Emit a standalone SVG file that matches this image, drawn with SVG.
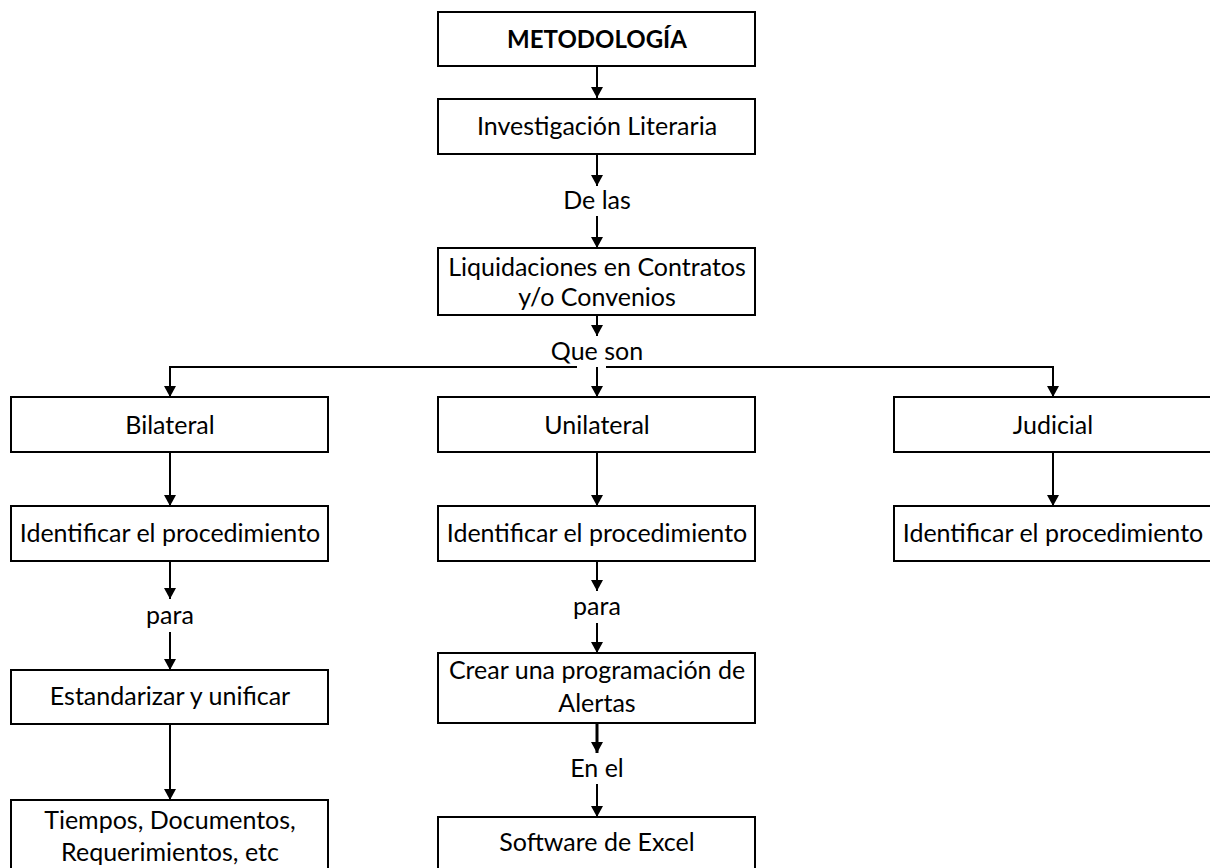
<svg xmlns="http://www.w3.org/2000/svg" width="1210" height="868" viewBox="0 0 1210 868">
<defs>
<marker id="ah" markerUnits="userSpaceOnUse" markerWidth="12" markerHeight="12" refX="11" refY="6" orient="auto">
<path d="M0,0 L11,6 L0,12 Z" fill="#000"/>
</marker>
<style>
.box{fill:#fff;stroke:#000;stroke-width:2}
.t{font-family:Lato,"Open Sans",sans-serif;font-size:25px;fill:#000;text-anchor:middle}
.b{font-weight:bold;font-size:24px}
.c{stroke:#000;stroke-width:2;fill:none}
.a{marker-end:url(#ah)}
</style>
</defs>
<rect width="1210" height="868" fill="#fff"/>
<g id="connectors">
<line class="c a" x1="597" y1="66" x2="597" y2="98"/>
<line class="c a" x1="597" y1="154" x2="597" y2="186"/>
<line class="c a" x1="597" y1="216" x2="597" y2="248"/>
<line class="c a" x1="597" y1="315" x2="597" y2="336"/>
<polyline class="c a" points="577,367 170,367 170,397"/>
<polyline class="c a" points="606,367 1053,367 1053,397"/>
<line class="c a" x1="597" y1="367" x2="597" y2="397"/>
<line class="c a" x1="170" y1="452" x2="170" y2="506"/>
<line class="c a" x1="597" y1="452" x2="597" y2="506"/>
<line class="c a" x1="1053" y1="452" x2="1053" y2="506"/>
<line class="c a" x1="170" y1="561" x2="170" y2="599"/>
<line class="c a" x1="170" y1="632" x2="170" y2="670"/>
<line class="c a" x1="170" y1="724" x2="170" y2="800"/>
<line class="c a" x1="597" y1="561" x2="597" y2="591"/>
<line class="c a" x1="597" y1="623" x2="597" y2="653"/>
<line class="c a" x1="597" y1="723" x2="597" y2="753" style="stroke-width:3"/>
<line class="c a" x1="597" y1="784" x2="597" y2="817"/>
</g>
<g id="metodologia"><rect class="box" x="438" y="12" width="317" height="54"/><text class="t b" x="597" y="48">METODOLOGÍA</text></g>
<g id="investigacion"><rect class="box" x="438" y="99" width="317" height="55"/><text class="t" x="597" y="135">Investigación Literaria</text></g>
<g id="delas"><text class="t" x="597" y="209">De las</text></g>
<g id="liquidaciones"><rect class="box" x="438" y="248" width="317" height="67"/><text class="t" x="597" y="276">Liquidaciones en Contratos</text><text class="t" x="597" y="306">y/o Convenios</text></g>
<g id="queson"><text class="t" x="597" y="360">Que son</text></g>
<g id="bilateral"><rect class="box" x="11" y="397" width="317" height="55"/><text class="t" x="170" y="434">Bilateral</text></g>
<g id="unilateral"><rect class="box" x="438" y="397" width="317" height="55"/><text class="t" x="597" y="434">Unilateral</text></g>
<g id="judicial"><rect class="box" x="894" y="397" width="318" height="55"/><text class="t" x="1053" y="434">Judicial</text></g>
<g id="ident-bi"><rect class="box" x="11" y="506" width="317" height="55"/><text class="t" x="170" y="542">Identificar el procedimiento</text></g>
<g id="ident-uni"><rect class="box" x="438" y="506" width="317" height="55"/><text class="t" x="597" y="542">Identificar el procedimiento</text></g>
<g id="ident-jud"><rect class="box" x="894" y="506" width="318" height="55"/><text class="t" x="1053" y="542">Identificar el procedimiento</text></g>
<g id="para-bi"><text class="t" x="170" y="624">para</text></g>
<g id="para-uni"><text class="t" x="597" y="615">para</text></g>
<g id="estandarizar"><rect class="box" x="11" y="670" width="317" height="54"/><text class="t" x="170" y="705">Estandarizar y unificar</text></g>
<g id="crear"><rect class="box" x="438" y="653" width="317" height="70"/><text class="t" x="597" y="679">Crear una programación de</text><text class="t" x="597" y="712">Alertas</text></g>
<g id="enel"><text class="t" x="597" y="777">En el</text></g>
<g id="tiempos"><rect class="box" x="11" y="800" width="317" height="80"/><text class="t" x="170" y="829">Tiempos, Documentos,</text><text class="t" x="170" y="861">Requerimientos, etc</text></g>
<g id="software"><rect class="box" x="438" y="817" width="317" height="60"/><text class="t" x="597" y="851">Software de Excel</text></g>
</svg>
